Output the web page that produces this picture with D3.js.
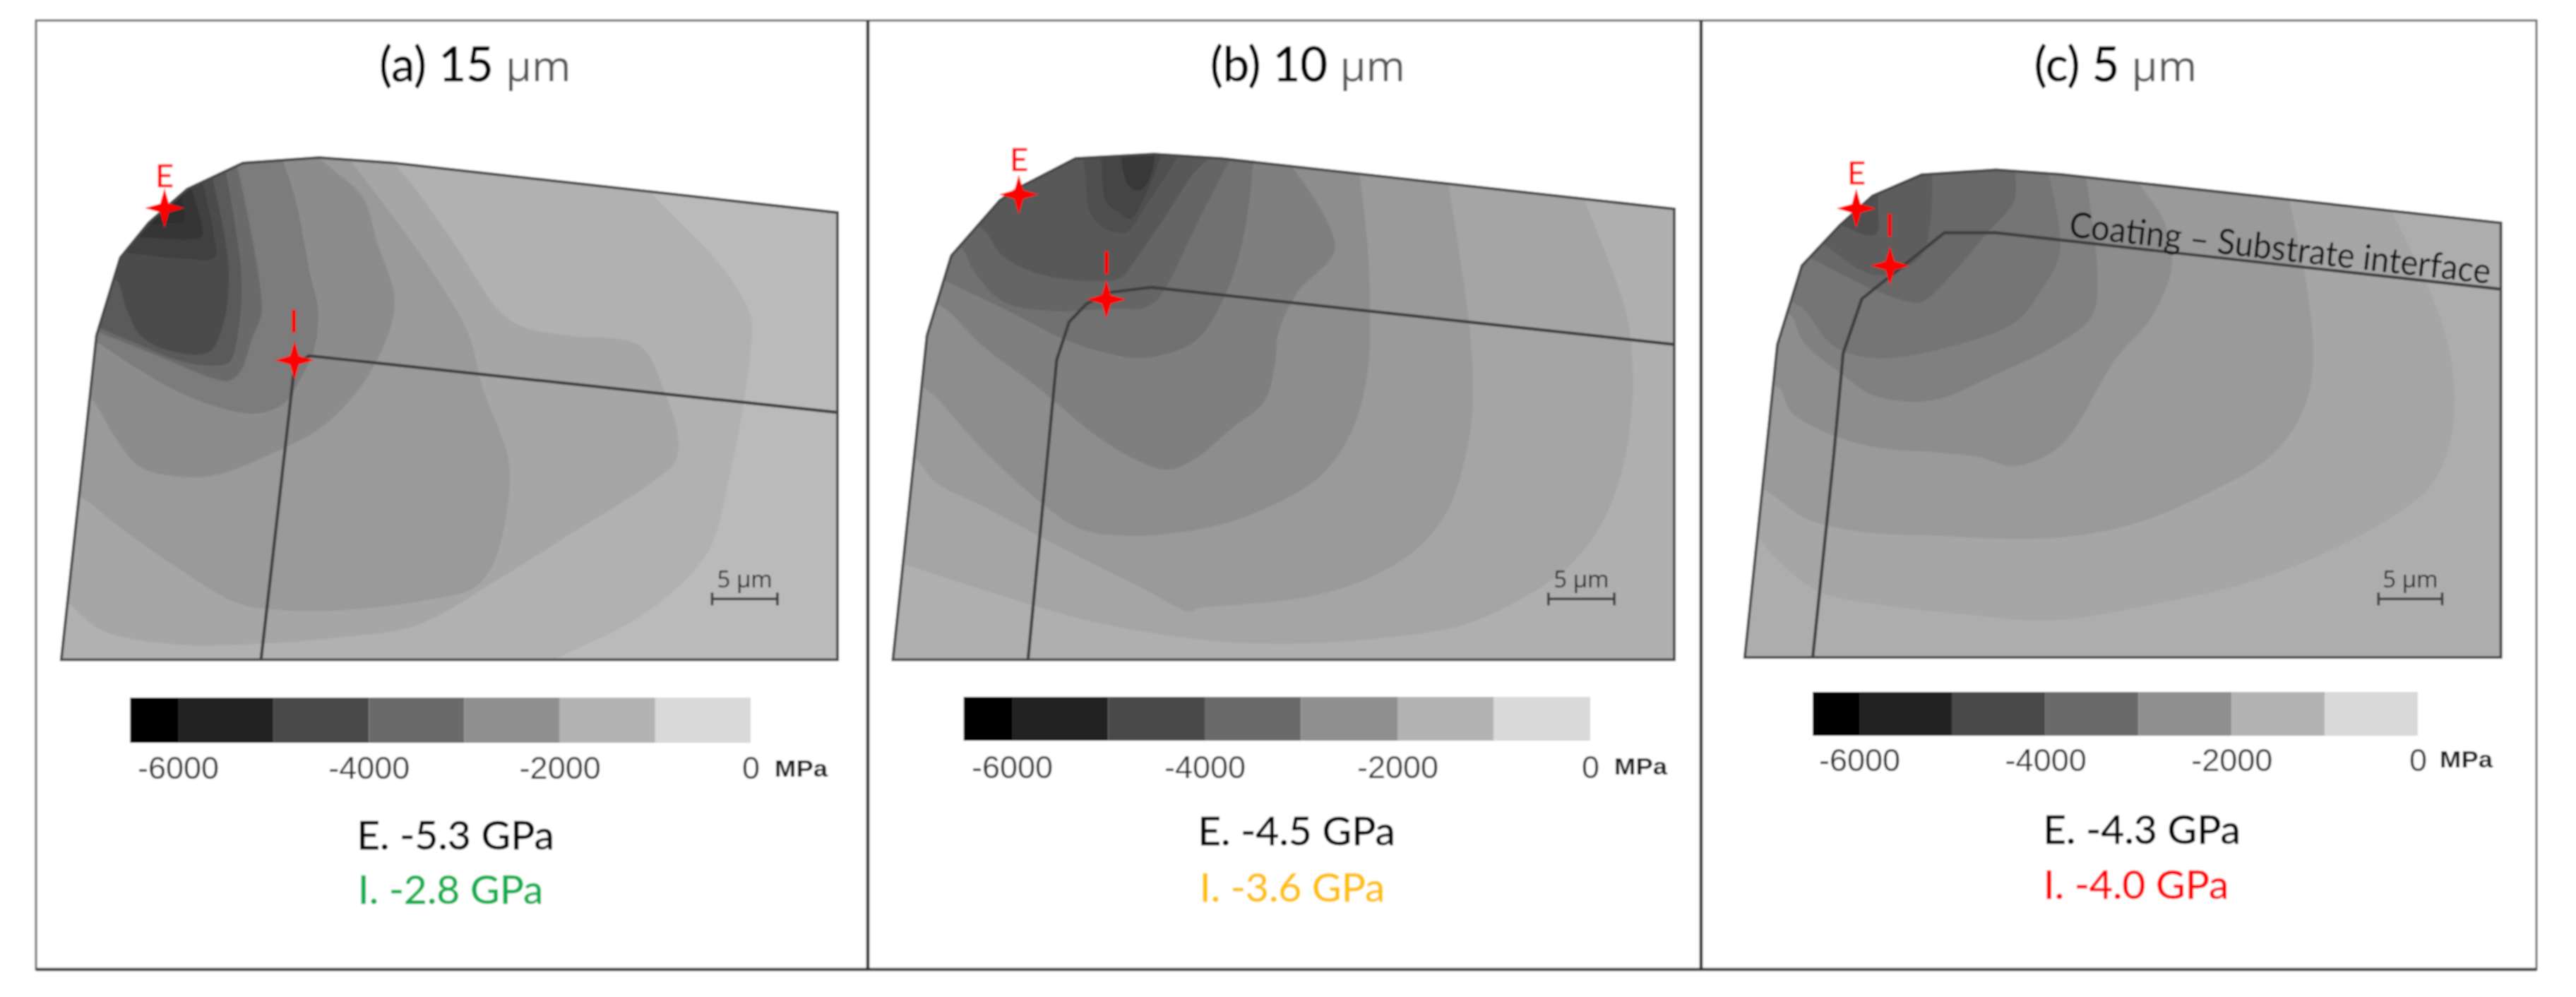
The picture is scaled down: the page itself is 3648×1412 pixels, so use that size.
<!DOCTYPE html>
<html><head><meta charset="utf-8">
<style>html,body{margin:0;padding:0;background:#fff}svg{display:block}</style>
<script src="https://cdn.jsdelivr.net/npm/d3@7/dist/d3.min.js"></script>
</head><body><svg id="chart" width="3648" height="1412"></svg>
<script>
// ---------- values ----------
const panelTitles = ["(a) 15 ", "(b) 10 ", "(c) 5 "];
const edgeValues = ["E. -5.3 GPa", "E. -4.5 GPa", "E. -4.3 GPa"];
const interfaceValues = ["I. -2.8 GPa", "I. -3.6 GPa", "I. -4.0 GPa"];
const interfaceColors = ["#0cae4e", "#ffc000", "#ff0000"];
const legendBreaks = [-6500, -6000, -5000, -4000, -3000, -2000, -1000, 0];
const legendColors = ["#000000", "#222222", "#4a4a4a", "#6b6b6b", "#8f8f8f", "#b3b3b3", "#d9d9d9"];
const legendTicks = [-6000, -4000, -2000, 0];

// outlines and iso-stress bands, in reading units of each panel (0..1568 each way)
const toolA = [[108,1465],[170,745],[212,572],[262,495],[330,420],[428,362],[562,350],[695,362],[1476,472],[1476,1465]];
const interfaceA = [[460,1465],[517,835],[525,805],[545,790],[1476,916]];
const baseA = "#bababa";
const bandColorsA = ["#b1b1b1","#a6a6a6","#9a9a9a","#8c8c8c","#7b7b7b","#6a6a6a","#5a5a5a","#4c4c4c","#404040","#363636","#2e2e2e"];
const bandsA = [
 [[1140,420],[1180,470],[1270,590],[1320,690],[1325,730],[1310,900],[1285,1060],[1250,1220],[1180,1320],[1100,1390],[1000,1450],[950,1480]],
 [[680,345],[720,400],[800,540],[880,690],[920,725],[1000,745],[1100,755],[1135,775],[1170,865],[1195,970],[1190,1025],[1150,1070],[1000,1190],[880,1285],[735,1388],[600,1415],[450,1430],[300,1430],[180,1400],[130,1350],[100,1310]],
 [[610,345],[680,460],[760,600],[825,740],[850,860],[890,990],[897,1030],[895,1120],[870,1250],[835,1305],[740,1335],[600,1355],[500,1355],[420,1340],[300,1250],[200,1160],[150,1110],[110,1090]],
 [[555,345],[590,380],[640,440],[665,540],[695,660],[685,740],[635,860],[565,950],[500,995],[380,1055],[310,1058],[245,1035],[200,965],[160,885],[130,870]],
 [[495,345],[520,440],[547,612],[560,685],[554,774],[527,847],[502,894],[460,917],[419,915],[328,878],[245,821],[174,763],[130,735]],
 [[415,350],[440,500],[460,653],[460,700],[444,753],[423,826],[402,846],[373,839],[286,794],[183,742],[140,720]],
 [[395,360],[425,601],[423,706],[407,800],[394,810],[328,805],[232,758],[183,732],[140,700]],
 [[372,380],[402,575],[402,653],[394,716],[369,781],[307,781],[249,747],[224,690],[205,622],[170,610]],
 [[355,395],[378,528],[378,572],[328,575],[228,562],[170,555]],
 [[335,410],[355,497],[355,525],[257,528],[200,528]],
 [[318,425],[325,470],[325,490],[285,497],[240,497]]
];

const toolB = [[32,1465],[95,745],[140,568],[230,445],[268,415],[370,352],[515,342],[640,352],[1478,464],[1478,1465]];
const interfaceB = [[282,1465],[335,800],[358,715],[390,675],[430,650],[510,638],[1478,765]];
const baseB = "#afafaf";
const bandColorsB = ["#a5a5a5","#9a9a9a","#8d8d8d","#7f7f7f","#717171","#656565","#595959","#4f4f4f","#454545","#383838"];
const bandsB = [
 [[1310,440],[1350,560],[1390,700],[1400,800],[1400,900],[1380,1050],[1340,1170],[1280,1260],[1180,1340],[1080,1390],[950,1415],[750,1430],[600,1420],[400,1380],[200,1310],[60,1255],[20,1240]],
 [[1060,410],[1085,600],[1100,740],[1105,900],[1090,1020],[1060,1130],[1000,1220],[900,1290],[800,1325],[700,1340],[600,1350],[580,1358],[500,1310],[350,1220],[200,1125],[110,1070],[75,1020],[50,1010]],
 [[895,385],[910,540],[915,700],[910,830],[880,960],[820,1060],[700,1140],[600,1175],[480,1190],[380,1175],[310,1120],[200,1000],[100,870],[70,850]],
 [[770,370],[850,550],[780,650],[745,740],[740,800],[720,890],[660,950],[590,1020],[540,1043],[480,1020],[400,960],[300,860],[200,770],[122,680],[80,665]],
 [[700,345],[684,507],[653,638],[601,747],[557,779],[492,795],[427,784],[348,753],[253,695],[135,627],[90,600]],
 [[660,345],[601,481],[540,632],[518,669],[492,685],[449,685],[322,690],[235,669],[179,596],[161,554],[120,530]],
 [[625,345],[592,380],[536,481],[479,580],[453,617],[405,625],[296,606],[231,564],[205,517],[170,480]],
 [[563,335],[553,360],[505,449],[466,515],[449,517],[422,507],[396,470],[388,392],[383,335]],
 [[531,335],[505,418],[472,486],[449,470],[427,449],[418,335]],
 [[518,335],[505,402],[486,423],[466,408],[453,335]]
];

const toolC = [[40,1460],[100,765],[145,590],[215,500],[275,435],[365,388],[502,377],[620,387],[1430,495],[1430,1460]];
const interfaceC = [[165,1460],[203,1019],[221,784],[255,664],[407,517],[502,517],[1428,642]];
const baseC = "#adadad";
const bandColorsC = ["#a6a6a6","#9a9a9a","#8d8d8d","#808080","#747474","#686868","#5d5d5d","#505050"];
const bandsC = [
 [[1230,470],[1290,620],[1330,750],[1345,880],[1335,990],[1300,1080],[1200,1170],[1000,1280],[800,1340],[600,1378],[450,1365],[300,1345],[170,1310],[90,1230],[60,1190],[30,1170]],
 [[1040,440],[1075,650],[1085,800],[1075,880],[1050,950],[1000,1020],[900,1090],[750,1165],[600,1195],[400,1190],[250,1180],[150,1150],[80,1090],[50,1080]],
 [[755,395],[810,490],[825,590],[790,700],[720,800],[620,990],[535,1035],[470,1015],[400,1005],[290,995],[203,967],[125,914],[104,862],[70,850]],
 [[666,385],[688,601],[679,700],[623,758],[493,836],[385,889],[277,878],[225,836],[147,758],[125,700],[90,680]],
 [[597,380],[619,559],[580,653],[536,716],[407,773],[277,795],[203,768],[147,685],[110,660]],
 [[536,380],[536,444],[493,507],[381,658],[359,672],[277,643],[173,580],[140,560]],
 [[385,380],[381,496],[363,570],[298,611],[255,601],[186,543],[150,520]],
 [[285,440],[285,460],[283,517],[268,523],[221,502],[190,490]]
];

// marker positions in the same reading units
const edgePoints = [[290,462],[265,432],[245,463]];
const interfacePoints = [[519,800],[427,665],[307,590]];
const scaleBarSpans = [[1255,1370],[1245,1367],[1205,1322]];

// ---------- layout ----------
const panels = [
 {tool:toolA, iface:interfaceA, base:baseA, bands:bandsA, colors:bandColorsA, x0:0,    w:1260, cx:673,  bar:[988,1052], leg:[252,1063],  tickY:1103, mpa:[1097,1100], ev:[645,1203], iv:[638,1280], eLab:[233,265], iLab:[416,471]},
 {tool:toolB, iface:interfaceB, base:baseB, bands:bandsB, colors:bandColorsB, x0:1240, w:1200, cx:1852, bar:[987,1049], leg:[1433,2252], tickY:1102, mpa:[2286,1097], ev:[1836,1197], iv:[1830,1277], eLab:[1443,242], iLab:[1567,388]},
 {tool:toolC, iface:interfaceC, base:baseC, bands:bandsC, colors:bandColorsC, x0:2440, w:1208, cx:2996, bar:[980,1042], leg:[2633,3424], tickY:1092, mpa:[3455,1087], ev:[3033,1195], iv:[3025,1273], eLab:[2629,261], iLab:[2676,335]}
];
const textFont = "Lato, 'Open Sans', sans-serif";
const unitFont = "'Open Sans', Lato, sans-serif";
const tickFont = "'Liberation Sans', Arial, sans-serif";
const svg = d3.select("#chart");
const defs = svg.append("defs");
defs.append("filter").attr("id","soft").attr("x","-2%").attr("y","-2%").attr("width","104%").attr("height","104%")
  .append("feGaussianBlur").attr("stdDeviation",1.1);
const root = svg.append("g").attr("filter","url(#soft)");
root.append("rect").attr("width",3648).attr("height",1412).attr("fill","#fff");

// frame
root.append("rect").attr("x",51).attr("y",29).attr("width",3541).attr("height",1344)
  .attr("fill","none").attr("stroke","#6e6e6e").attr("stroke-width",3);
root.append("line").attr("x1",51).attr("x2",3592).attr("y1",1373).attr("y2",1373).attr("stroke","#444").attr("stroke-width",4.5);
[1229,2409].forEach(x=>root.append("line").attr("x1",x).attr("x2",x).attr("y1",29).attr("y2",1373).attr("stroke","#2e2e2e").attr("stroke-width",4.5));

const star = {draw(ctx,size){
  const a=Math.sqrt(size), w=a*0.22;
  ctx.moveTo(0,-a);ctx.lineTo(w,-w);ctx.lineTo(a,0);ctx.lineTo(w,w);
  ctx.lineTo(0,a);ctx.lineTo(-w,w);ctx.lineTo(-a,0);ctx.lineTo(-w,-w);ctx.closePath();
}};

panels.forEach((p,i)=>{
  const x = d3.scaleLinear().domain([0,1568]).range([p.x0,p.x0+p.w]);
  const y = d3.scaleLinear().domain([0,1568]).range([0,1000]);
  const straight = d3.line().x(d=>x(d[0])).y(d=>y(d[1]));
  const smooth = d3.line().x(d=>x(d[0])).y(d=>y(d[1])).curve(d3.curveCatmullRom.alpha(0.5));
  const g = root.append("g");

  defs.append("clipPath").attr("id","tool"+i).append("path").attr("d",straight(p.tool)+"Z");
  const art = g.append("g").attr("clip-path",`url(#tool${i})`);
  art.append("path").attr("d",straight(p.tool)+"Z").attr("fill",p.base);
  art.selectAll("path.band").data(p.bands).join("path").attr("class","band")
    .attr("fill",(d,k)=>p.colors[k])
    .attr("d",d=>{
      const a=d[0], b=d[d.length-1];
      // close each band around the outside of the tool; the clip keeps the inside
      return smooth(d)+`L${x(-200)},${y(b[1])}L${x(-200)},${y(-200)}L${x(a[0])},${y(-200)}Z`;
    });

  g.append("path").attr("d",straight(p.iface)).attr("fill","none").attr("stroke","#3c3c3c").attr("stroke-width",4.2);
  g.append("path").attr("d",straight(p.tool)+"Z").attr("fill","none").attr("stroke","#474747").attr("stroke-width",3.8);

  // title
  const t = g.append("text").attr("x",p.cx).attr("y",115).attr("text-anchor","middle")
    .attr("font-family",textFont).attr("font-size",67).attr("fill","#050505").attr("stroke","#050505").attr("stroke-width",0.7).text(panelTitles[i]);
  t.append("tspan").attr("font-family",unitFont).attr("font-size",60).attr("fill","#555").attr("stroke","none").text("µm");

  // markers
  const sym = d3.symbol().type(star).size(28*28)();
  [edgePoints[i],interfacePoints[i]].forEach(pt=>{
    g.append("path").attr("d",sym).attr("transform",`translate(${x(pt[0])},${y(pt[1])})`).attr("fill","#ff0000");
  });
  [["E",p.eLab],["I",p.iLab]].forEach(([s,pos])=>{
    g.append("text").attr("x",pos[0]).attr("y",pos[1]).attr("text-anchor","middle")
      .attr("font-family",textFont).attr("font-size",45).attr("fill","#ff0000").attr("stroke","#ff0000").attr("stroke-width",0.6).text(s);
  });

  // scale bar
  const sb = scaleBarSpans[i], sy=y(1330);
  g.append("path").attr("d",`M${x(sb[0])},${sy-9}V${sy+9}M${x(sb[0])},${sy}H${x(sb[1])}M${x(sb[1])},${sy-9}V${sy+9}`)
    .attr("fill","none").attr("stroke","#3a3a3a").attr("stroke-width",3.5);
  g.append("text").attr("x",x((sb[0]+sb[1])/2)).attr("y",y(1305)).attr("text-anchor","middle")
    .attr("font-family",unitFont).attr("font-size",33).attr("fill","#1a1a1a").text("5 µm");

  // legend
  const lx = d3.scaleLinear().domain([-6000,0]).range(p.leg);
  g.selectAll("rect.swatch").data(legendColors).join("rect").attr("class","swatch")
    .attr("x",(d,k)=>lx(legendBreaks[k])).attr("y",p.bar[0])
    .attr("width",(d,k)=>lx(legendBreaks[k+1])-lx(legendBreaks[k]))
    .attr("height",p.bar[1]-p.bar[0]).attr("fill",d=>d);
  const ax = g.append("g").attr("transform",`translate(0,${p.bar[1]})`)
    .call(d3.axisBottom(lx).tickValues(legendTicks).tickSize(0).tickFormat(String));
  ax.select(".domain").remove();
  ax.selectAll("text").attr("y",p.tickY-p.bar[1]).attr("dy",0)
    .attr("font-family",tickFont).attr("font-size",45).attr("textLength",null).attr("fill","#2e2e2e");
  g.append("text").attr("x",p.mpa[0]).attr("y",p.mpa[1]).attr("font-family",tickFont)
    .attr("font-weight","bold").attr("font-size",34).attr("fill","#1a1a1a")
    .attr("textLength",75).attr("lengthAdjust","spacingAndGlyphs").text("MPa");

  // values
  g.append("text").attr("x",p.ev[0]).attr("y",p.ev[1]).attr("text-anchor","middle")
    .attr("font-family",textFont).attr("font-size",57).attr("fill","#050505").attr("stroke","#050505").attr("stroke-width",0.6).text(edgeValues[i]);
  g.append("text").attr("x",p.iv[0]).attr("y",p.iv[1]).attr("text-anchor","middle")
    .attr("font-family",textFont).attr("font-size",57).attr("fill",interfaceColors[i]).attr("stroke",interfaceColors[i]).attr("stroke-width",0.6).text(interfaceValues[i]);
});

// annotation
root.append("text").attr("transform","translate(2929,335) rotate(6.4)")
  .attr("font-family",textFont).attr("font-size",50).attr("fill","#111")
  .attr("textLength",600).attr("lengthAdjust","spacingAndGlyphs").text("Coating – Substrate interface");
</script></body></html>
